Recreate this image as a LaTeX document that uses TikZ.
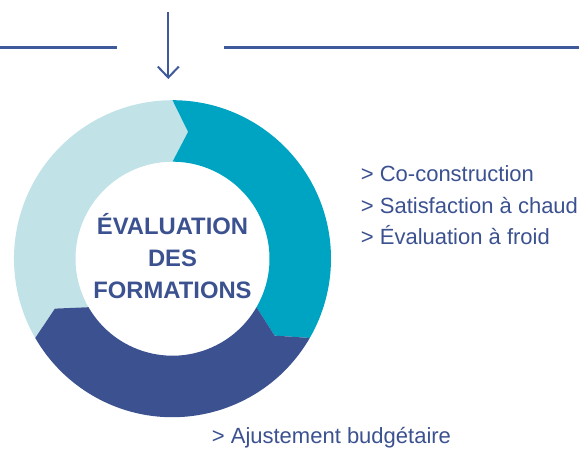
\documentclass[tikz,border=0pt]{standalone}
\usepackage{fontspec}
\setmainfont{Liberation Sans}
\usetikzlibrary{arrows.meta}
\definecolor{segLight}{HTML}{C1E2E7}
\definecolor{segTeal}{HTML}{00A4C3}
\definecolor{segDark}{HTML}{3B5190}
\definecolor{txtBlue}{HTML}{3B5190}
\definecolor{lineBlue}{HTML}{3E5A9A}
\tikzset{
  rule/.style={draw=lineBlue, line width=2.6pt},
  downarrow/.style={draw=lineBlue, line width=2pt, -{Straight Barb[length=11pt,width=21pt,line width=2pt]}},
  itemtext/.style={anchor=base west, text=txtBlue, inner sep=0pt, font=\fontsize{22}{26}\selectfont},
  titletext/.style={text=txtBlue, inner sep=0pt, align=center, font=\fontsize{23.8}{31.8}\selectfont\bfseries}
}
\begin{document}
\begin{tikzpicture}[x=1pt,y=1pt]
\useasboundingbox (0,0) rectangle (579,-450);
% top rules and arrow
\coordinate (l1) at (0,-47.7);
\coordinate (l2) at (116.7,-47.7);
\coordinate (r1) at (224,-47.7);
\coordinate (r2) at (579,-47.7);
\coordinate (a1) at (168.3,-12.3);
\coordinate (a2) at (168.3,-79);
\draw[rule] (l1) -- (l2);
\draw[rule] (r1) -- (r2);
\draw[downarrow] (a1) -- (a2);
% ring
\def\Ro{158.5}
\def\Ri{97}
\def\Rm{127.75}
\def\tip{7}
\begin{scope}[shift={(172.5,-258.7)}]
\coordinate (c) at (0,0);
\fill[segLight] (210:\Ro) arc[start angle=210, end angle=90, radius=\Ro]
  -- (90-\tip:\Rm) -- (90:\Ri) arc[start angle=90, end angle=210, radius=\Ri]
  -- (210-\tip:\Rm) -- cycle;
\fill[segTeal] (90:\Ro) arc[start angle=90, end angle=-30, radius=\Ro]
  -- (-30-\tip:\Rm) -- (-30:\Ri) arc[start angle=-30, end angle=90, radius=\Ri]
  -- (90-\tip:\Rm) -- cycle;
\fill[segDark] (-30:\Ro) arc[start angle=-30, end angle=-150, radius=\Ro]
  -- (-150-\tip:\Rm) -- (-150:\Ri) arc[start angle=-150, end angle=-30, radius=\Ri]
  -- (-30-\tip:\Rm) -- cycle;
\end{scope}
\node[titletext] (title) at (172.5,-256) {ÉVALUATION\\DES\\FORMATIONS};
% items
\node[itemtext] (i1) at (360.7,-181.7) {> Co-construction};
\node[itemtext] (i2) at (360.7,-213.3) {> Satisfaction à chaud};
\node[itemtext] (i3) at (360.7,-244.3) {> Évaluation à froid};
\node[itemtext] (i4) at (211.7,-443.3) {> Ajustement budgétaire};
\end{tikzpicture}
\end{document}
